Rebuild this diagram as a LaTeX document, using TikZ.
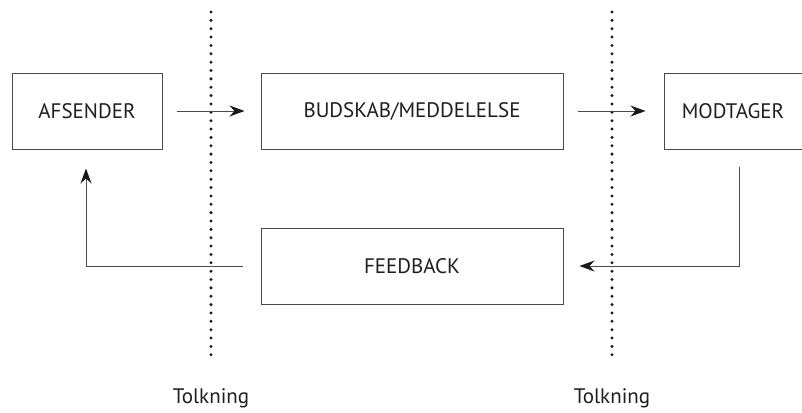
\documentclass[tikz,border=0pt]{standalone}
\usepackage{fontspec}
\setmainfont{PT Sans}
\usetikzlibrary{arrows.meta,calc}
\definecolor{linegray}{HTML}{4A4A4A}
\definecolor{textgray}{HTML}{1E1E1E}
\begin{document}
\begin{tikzpicture}[x=1pt,y=-1pt,
  box/.style={draw=linegray,line width=1pt,minimum height=76pt,inner sep=0pt,
    font=\fontsize{21}{24}\selectfont,text=textgray},
  conn/.style={draw=linegray,line width=1pt},
  arr/.style={conn,-{Stealth[length=15pt,width=11pt,inset=5pt,color=black!90,fill=black!90]}},
  dotline/.style={line width=3.3pt,line cap=round,dash pattern=on 0pt off 8.36pt,color=black!90},
  lbl/.style={font=\fontsize{21}{24}\selectfont,text=textgray}]
\useasboundingbox (0,0) rectangle (802,412);
\node[box,minimum width=150pt] (afs) at (87,111) {AFSENDER};
\node[box,minimum width=302pt] (bud) at (412,111) {BUDSKAB/MEDDELELSE};
\node[box,minimum width=138pt] (mod) at (733,111) {MODTAGER};
\node[box,minimum width=302pt] (fb) at (412,266) {FEEDBACK};
\coordinate (d1t) at (211,12);
\coordinate (d1b) at (211,360);
\coordinate (d2t) at (612,12);
\coordinate (d2b) at (612,360);
\draw[dotline] (d1t) -- (d1b);
\draw[dotline] (d2t) -- (d2b);
\node[lbl] (t1) at (211,398) {Tolkning};
\node[lbl] (t2) at (612,398) {Tolkning};
\draw[arr] ([xshift=14pt]afs.east) -- ([xshift=-16pt]bud.west);
\draw[arr] ([xshift=14pt]bud.east) -- ([xshift=-18pt]mod.west);
\draw[arr] ($(mod.south)+(6,17)$) |- ([xshift=16pt]fb.east);
\draw[arr] ([xshift=-18pt]fb.west) -| ($(afs.south)+(-1,19)$);
\end{tikzpicture}
\end{document}
